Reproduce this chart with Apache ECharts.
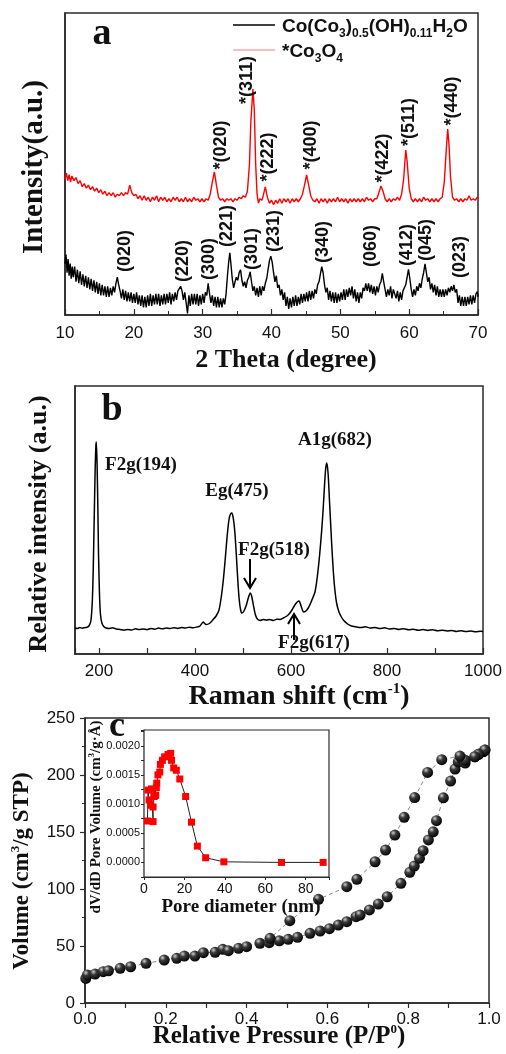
<!DOCTYPE html>
<html>
<head>
<meta charset="utf-8">
<script src="https://cdn.jsdelivr.net/npm/echarts@6/dist/echarts.min.js"></script>
<style>
html,body{margin:0;padding:0;background:#fff;}
#c{width:506px;height:1054px;}
</style>
</head>
<body>
<div id="c"></div>
<script>
// ---------------- DATA ----------------
// Panel a: XRD (2theta, arbitrary intensity)
const xrdCarbonate = [[10.0,17],[10.15,20],[10.3,14],[10.45,18.5],[10.6,13],[10.75,17],[10.9,12],[11.05,16],[11.2,12.5],[11.4,16],[11.6,11],[11.8,15],[12.0,10.5],[12.2,14.5],[12.4,10],[12.6,13.5],[12.8,9.5],[13.0,13],[13.2,9],[13.4,12.5],[13.6,8.5],[13.8,12],[14.0,8],[14.2,11.5],[14.4,7.5],[14.6,11],[14.8,7],[15.0,10.5],[15.2,6.5],[15.4,10],[15.6,6.5],[15.8,9.5],[16.0,6],[16.2,9.5],[16.4,6],[16.6,9],[16.8,6.5],[17.0,9.5],[17.2,7.5],[17.4,10.5],[17.6,12.5],[17.8,10],[18.0,8],[18.2,5.5],[18.4,8.5],[18.6,5],[18.8,8],[19.0,4.5],[19.2,7.5],[19.4,4.5],[19.6,7.5],[19.8,4],[20.0,7],[20.2,4],[20.4,7.5],[20.6,3.5],[20.8,6.5],[21.0,3],[21.2,6.5],[21.4,2.5],[21.6,6],[21.8,2.5],[22.0,6.5],[22.2,3],[22.4,7],[22.6,3],[22.8,6.5],[23.0,3.5],[23.2,7],[23.4,3.5],[23.6,7],[23.8,3],[24.0,6.5],[24.2,3.5],[24.4,7],[24.6,3.5],[24.8,7],[25.0,4],[25.2,7.5],[25.4,3.5],[25.6,7],[25.8,4.5],[26.0,7.5],[26.2,5],[26.4,8],[26.6,7.5],[26.8,9.5],[27.0,8],[27.2,5],[27.4,7.5],[27.6,4],[27.8,0.5],[28.0,6.5],[28.2,3],[28.4,7],[28.6,3.5],[28.8,7],[29.0,3.5],[29.2,7],[29.4,3],[29.6,6.5],[29.8,3.5],[30.0,7],[30.2,4],[30.4,7.5],[30.6,6.5],[30.8,10.5],[31.0,7],[31.2,4],[31.4,6.5],[31.6,3],[31.8,6],[32.0,2.5],[32.2,6],[32.4,2.5],[32.6,5.5],[32.8,2.5],[33.0,5.5],[33.2,3.5],[33.4,7],[33.6,13],[33.8,18],[33.95,20.6],[34.1,17],[34.3,12],[34.5,9],[34.7,11],[34.9,12.5],[35.1,11.5],[35.3,14],[35.5,15],[35.7,11.5],[35.9,9.5],[36.1,11],[36.3,9],[36.5,11.5],[36.7,12.5],[36.9,14.3],[37.1,11],[37.3,8],[37.5,9.5],[37.7,6.5],[37.9,9],[38.1,6],[38.3,9.5],[38.5,6.5],[38.7,9.5],[38.9,8],[39.1,10.5],[39.3,12],[39.5,15],[39.7,18],[39.9,19.5],[40.1,17.5],[40.3,14],[40.5,11],[40.7,13],[40.9,9],[41.1,10],[41.3,6.5],[41.5,8.5],[41.7,5],[41.9,7.5],[42.1,3],[42.3,6],[42.5,2],[42.7,5.5],[42.9,2.5],[43.1,6],[43.3,3],[43.5,6.5],[43.7,3],[43.9,6],[44.1,3.5],[44.3,7],[44.5,4],[44.7,7],[44.9,4.5],[45.1,7.5],[45.3,4.5],[45.5,8],[45.7,5],[45.9,8],[46.1,5.5],[46.3,8.5],[46.5,7],[46.7,10],[46.9,11],[47.1,13.5],[47.3,16],[47.5,14],[47.7,10],[47.9,7.5],[48.1,9],[48.3,5],[48.5,8],[48.7,4.5],[48.9,7.5],[49.1,4],[49.3,7.5],[49.5,4],[49.7,7],[49.9,4.5],[50.1,7.5],[50.3,5],[50.5,8.5],[50.7,5],[50.9,8.5],[51.1,6],[51.3,9],[51.5,6.5],[51.7,9.5],[51.9,5.5],[52.1,8.5],[52.3,4.5],[52.5,7.5],[52.7,4],[52.9,7.5],[53.1,5.5],[53.3,9],[53.5,8],[53.7,10.5],[53.9,8],[54.1,10.5],[54.3,7.5],[54.5,10],[54.7,7],[54.9,9.5],[55.1,6.5],[55.3,9.5],[55.5,7.5],[55.7,10],[55.9,11],[56.1,13.8],[56.3,11],[56.5,8.5],[56.7,6],[56.9,8.5],[57.1,6.5],[57.3,9.5],[57.5,5.5],[57.7,8.5],[57.9,8.8],[58.1,5.5],[58.3,8],[58.5,4.5],[58.7,7.5],[58.9,5],[59.1,8],[59.3,7.5],[59.5,10],[59.7,12.5],[59.9,15.1],[60.1,12],[60.3,8.5],[60.5,6],[60.7,8.5],[60.9,6.5],[61.1,9.5],[61.3,8],[61.5,10.5],[61.7,9],[61.9,12],[62.1,14],[62.3,16.9],[62.5,14],[62.7,11],[62.9,12.5],[63.1,8.5],[63.3,10.5],[63.5,7.5],[63.7,10],[63.9,6.5],[64.1,9.5],[64.3,6],[64.5,8.5],[64.7,6],[64.9,8.5],[65.1,6],[65.3,8.5],[65.5,6.5],[65.7,9],[65.9,7.5],[66.1,9.5],[66.3,8],[66.5,10],[66.7,7.5],[66.9,8.5],[67.1,4],[67.3,6.5],[67.5,3],[67.7,6],[67.9,3],[68.1,6],[68.3,3],[68.5,6],[68.7,3.5],[68.9,6.5],[69.1,3.5],[69.3,6.5],[69.5,4],[69.7,7],[69.9,7.7],[70.0,6]];
const xrdCo3O4 = [[10.0,45],[10.2,47],[10.4,44.5],[10.6,46.5],[10.8,44],[11.0,46],[11.3,44.5],[11.6,45.5],[11.9,43.5],[12.2,44.5],[12.5,42.5],[12.8,43.5],[13.1,42],[13.4,43],[13.7,41.5],[14.0,42.5],[14.3,41],[14.6,42],[14.9,40.5],[15.2,41.5],[15.5,40],[15.8,41],[16.1,39.5],[16.4,40.5],[16.7,39.5],[17.0,40.5],[17.3,39],[17.6,40],[17.9,39.5],[18.2,40.5],[18.5,39.5],[18.8,40.5],[19.1,40],[19.4,43],[19.7,40.5],[20.0,39.5],[20.3,40],[20.6,38.5],[20.9,39.5],[21.2,38],[21.5,39.5],[21.8,38],[22.1,39],[22.4,37.5],[22.7,39],[23.0,38],[23.3,39.5],[23.6,37.5],[23.9,39],[24.2,38],[24.5,39],[24.8,37.5],[25.1,38.5],[25.4,37.5],[25.7,39],[26.0,38],[26.3,39],[26.6,37.5],[26.9,38.5],[27.2,37.5],[27.5,39],[27.8,37.5],[28.1,38.5],[28.4,37.5],[28.7,39],[29.0,38],[29.3,38.5],[29.6,37.5],[29.9,38.5],[30.2,37.5],[30.5,38.5],[30.8,38],[31.1,40],[31.4,44],[31.7,47.4],[32.0,43],[32.3,39],[32.6,38],[32.9,38.5],[33.2,37.5],[33.5,38.5],[33.8,38],[34.1,38.5],[34.4,37.5],[34.7,38.5],[35.0,38],[35.3,39],[35.6,38.5],[35.9,39.5],[36.2,39],[36.5,41],[36.8,50],[37.0,64],[37.3,74.8],[37.5,68],[37.7,50],[37.9,40],[38.1,37],[38.3,38.5],[38.6,38],[38.8,39.5],[39.1,42.4],[39.4,39],[39.7,37],[40.0,38],[40.3,36.5],[40.6,38],[40.9,37],[41.2,38.5],[41.5,37],[41.8,38.5],[42.1,37.5],[42.4,38.5],[42.7,37],[43.0,38.5],[43.3,37.5],[43.6,38.5],[43.9,37.5],[44.2,38.5],[44.5,40],[44.8,43],[45.1,46.4],[45.4,43],[45.7,39.5],[46.0,38],[46.3,37.5],[46.6,38.5],[46.9,37],[47.2,38.5],[47.5,37.5],[47.8,38.5],[48.1,37],[48.4,38.5],[48.7,37.5],[49.0,38.5],[49.3,37.5],[49.6,39],[49.9,37.5],[50.2,38.5],[50.5,37.5],[50.8,38.5],[51.1,37],[51.4,38.5],[51.7,37.5],[52.0,38.5],[52.3,37.5],[52.6,38.5],[52.9,37.5],[53.2,38.5],[53.5,37.5],[53.8,39],[54.1,38],[54.4,38.5],[54.7,37.5],[55.0,38.5],[55.3,38.5],[55.6,40.5],[55.9,42.7],[56.2,41],[56.5,38.5],[56.8,37.5],[57.1,38.5],[57.4,37.5],[57.7,38.5],[58.0,38],[58.3,39],[58.6,38],[58.9,40],[59.2,45],[59.5,54.6],[59.7,51],[60.0,42],[60.3,38.5],[60.6,37.5],[60.9,38.5],[61.2,37.5],[61.5,38.5],[61.8,37.5],[62.1,39],[62.4,38],[62.7,38.5],[63.0,37.5],[63.3,38.5],[63.6,37.5],[63.9,38.5],[64.2,37.5],[64.5,38.5],[64.8,39],[65.1,44],[65.4,55],[65.6,61.6],[65.8,56],[66.0,46],[66.3,39],[66.6,38],[66.9,38.5],[67.2,37.5],[67.5,38.5],[67.8,37.5],[68.1,38.5],[68.4,38],[68.7,39.5],[69.0,38],[69.3,38.5],[69.6,38],[69.9,39],[70.0,38.5]];
const xrdXTicks = [10,20,30,40,50,60,70];
const carbonatePeakLabels = ['(020)','(220)','(300)','(221)','(301)','(231)','(340)','(060)','(412)','(045)','(023)'];
const co3o4PeakLabels = ['*(020)','*(311)','*(222)','*(400)','*(422)','*(511)','*(440)'];

// Panel b: Raman (shift cm-1, relative intensity)
const raman = [[150,26],[155,25.5],[160,26.5],[165,25.8],[170,26.3],[175,26.8],[179,28],[183,33],[186,52],[188,85],[190,135],[192,185],[193.5,208],[194.5,212],[196,190],[197.5,150],[199,100],[201,60],[203,40],[206,31],[210,27.5],[215,26],[220,25.5],[228,26.2],[236,25],[244,24.5],[252,23.8],[260,24.6],[268,24],[276,25.2],[284,24.4],[292,25],[300,24.3],[308,25.6],[316,24.8],[324,25.9],[332,25.2],[340,26],[348,25.4],[356,26.3],[364,25.6],[372,26.5],[380,25.9],[388,26.8],[396,26.2],[404,27],[410,27.8],[417,32],[423,29.5],[430,30.5],[437,34],[444,38],[450,44],[455,58],[459,74],[463,95],[467,118],[471,135],[474,140],[477,141],[480,135],[483,122],[486,100],[489,75],[492,55],[495,44],[498,41],[502,43],[507,49],[511,56],[515,61],[518,58],[522,48],[526,39],[530,35],[536,33.5],[542,34.5],[549,33.8],[556,34.6],[563,33.5],[570,34.8],[577,34.5],[584,36],[590,37.5],[596,40],[602,44],[608,49],[613,52],[617,53],[621,48],[626,42],[631,43],[636,46],[641,51],[646,57],[650,62],[655,78],[660,101],[664,124],[667,145],[670,170],[672,184],[674,191],[676,187],[678,175],[680,155],[682,136],[685,108],[688,84],[691,66],[695,51],[700,42],[705,37],[710,33.5],[718,30],[726,28],[735,27.2],[745,26.5],[755,27.2],[765,26],[775,26.6],[785,25.5],[795,26.2],[805,25],[815,25.6],[825,24.6],[835,25.2],[845,24.2],[855,24.8],[865,23.8],[875,24.4],[885,23.6],[895,24.2],[905,23.2],[915,23.8],[925,23],[935,23.6],[945,22.6],[955,23.2],[965,22.4],[975,23],[985,22.2],[995,22.8],[1000,22.4]];
const ramanBands = ['F2g(194)','Eg(475)','F2g(518)','F2g(617)','A1g(682)'];

// Panel c: N2 isotherm (P/P0, cm3/g STP)
const adsorption = [[0.002,21.6],[0.006,24.6],[0.025,25.4],[0.045,27.5],[0.058,28.3],[0.087,30.4],[0.113,31.8],[0.151,34.8],[0.196,37.7],[0.227,39.2],[0.246,41.2],[0.272,41.2],[0.293,44.1],[0.322,44.5],[0.341,47.1],[0.355,45.9],[0.380,48.0],[0.400,49.4],[0.433,52.4],[0.456,52.9],[0.481,54.6],[0.503,55.9],[0.526,57.6],[0.557,61.1],[0.582,63.1],[0.605,65.2],[0.627,68.4],[0.648,71.3],[0.671,75.7],[0.681,77.2],[0.704,81.6],[0.726,86.8],[0.748,93.2],[0.782,105],[0.804,114.6],[0.815,120.1],[0.828,126.9],[0.837,133.6],[0.850,143],[0.862,150.2],[0.870,159.9],[0.887,180],[0.905,194.7],[0.916,205.2],[0.924,211.6],[0.932,214.6],[0.941,210.5],[0.965,216],[0.974,218.1],[0.986,220.4],[0.990,221.9]];
const desorption = [[0.990,221.9],[0.974,218.1],[0.965,216],[0.941,213],[0.928,216.6],[0.883,213.4],[0.848,202.3],[0.816,180.2],[0.790,162.9],[0.767,147.3],[0.744,134.2],[0.718,123.9],[0.673,108.5],[0.648,102],[0.578,90.9],[0.507,72.2],[0.458,56.7]];
// Inset: pore size distribution (nm, cm3/g/A)
const poreDist = [[1.7,0.00071],[2.0,0.00124],[2.5,0.00107],[3.3,0.00098],[3.7,0.00126],[4.5,0.00070],[4.5,0.00095],[5.0,0.00113],[5.8,0.00115],[6.1,0.00128],[6.3,0.00136],[6.9,0.00150],[7.8,0.00155],[8.1,0.00168],[9.1,0.00175],[10.2,0.00181],[11.9,0.00185],[13.2,0.00187],[13.6,0.00175],[14.7,0.00162],[16.0,0.00158],[17.7,0.00143],[20.6,0.00113],[23.5,0.00069],[26.4,0.00028],[30.5,0.00008],[39.5,0.00001],[68.0,0.0],[88.6,0.0]];

// ---------------- STYLE / LAYOUT ----------------
const SANS = '"Liberation Sans", Arial, sans-serif';
const SERIF = '"Liberation Serif", "Times New Roman", serif';
const INK = '#111';
const FRAME = '#2a2a2a';

function axisCommon(extra){
  return Object.assign({
    type:'value',
    axisLine:{show:true, onZero:false, lineStyle:{color:FRAME, width:1.5}},
    splitLine:{show:false},
    minorSplitLine:{show:false}
  }, extra);
}

const chart = echarts.init(document.getElementById('c'), null, {renderer:'canvas'});

function T(x, y, text, size, opts){
  opts = opts || {};
  return {
    type:'text', x:x, y:y, rotation: opts.rot || 0, z:100,
    style:{
      text:text, fill: opts.fill || INK,
      fontSize:size, fontFamily: opts.family || SERIF, fontWeight: opts.weight || 'bold',
      align: opts.align || 'center', verticalAlign:'middle',
      textAlign: opts.align || 'center', textVerticalAlign:'middle',
      rich: opts.rich
    }
  };
}
function richSub(size, subSize, family, lh){
  return {
    m:{fontSize:size, fontFamily:family, fontWeight:'bold', lineHeight:lh, verticalAlign:'middle', fill:INK},
    s:{fontSize:subSize, fontFamily:family, fontWeight:'bold', lineHeight:lh, verticalAlign:'bottom', fill:INK},
    u:{fontSize:subSize, fontFamily:family, fontWeight:'bold', lineHeight:lh, verticalAlign:'top', fill:INK}
  };
}

const graphics = [];
// panel letters
graphics.push(T(102, 34, 'a', 38));
graphics.push(T(112, 410, 'b', 38));
graphics.push(T(117, 727, 'c', 36));

// panel a legend
graphics.push({type:'line', z:100, shape:{x1:233,y1:25,x2:275,y2:25}, style:{stroke:'#000', lineWidth:1.3}});
graphics.push({type:'line', z:100, shape:{x1:233,y1:50,x2:275,y2:50}, style:{stroke:'#f08080', lineWidth:1.2}});
graphics.push(T(282, 27, '{m|Co(Co}{s|3}{m|)}{s|0.5}{m|(OH)}{s|0.11}{m|H}{s|2}{m|O}', 19, {align:'left', rich:richSub(19,12,SANS,26)}));
graphics.push(T(282, 52, '{m|*Co}{s|3}{m|O}{s|4}', 19, {align:'left', rich:richSub(19,12,SANS,26)}));

// panel a peak labels (rotated)
const redPos = [[221,145],[247,80],[268,157],[311,145],[383,158],[409,122],[452,101]];
co3o4PeakLabels.forEach((t,i)=>graphics.push(T(redPos[i][0], redPos[i][1], t, 18, {rot:Math.PI/2, family:SANS})));
const blackPos = [[125,251],[183,261],[209,259],[227,226],[252,249],[274,231],[323,242],[371,246],[407,245],[426,240],[460,257]];
carbonatePeakLabels.forEach((t,i)=>graphics.push(T(blackPos[i][0], blackPos[i][1], t, 18, {rot:Math.PI/2, family:SANS})));

// panel a axis titles
graphics.push(T(286, 360, '2 Theta (degree)', 26));
graphics.push(T(35, 167, 'Intensity(a.u.)', 29, {rot:Math.PI/2}));

// panel b band labels and arrows
const bandPos = [[141,465],[237,491],[274,550],[314,643],[335,440]];
ramanBands.forEach((t,i)=>graphics.push(T(bandPos[i][0], bandPos[i][1], t, 19)));
graphics.push({type:'line', z:100, shape:{x1:250,y1:559,x2:250,y2:587}, style:{stroke:'#000', lineWidth:2}});
graphics.push({type:'polyline', z:100, shape:{points:[[244,578],[250,588],[256,578]]}, style:{stroke:'#000', lineWidth:2, fill:null}});
graphics.push({type:'line', z:100, shape:{x1:294,y1:640,x2:294,y2:615}, style:{stroke:'#000', lineWidth:2}});
graphics.push({type:'polyline', z:100, shape:{points:[[288,624],[294,614],[300,624]]}, style:{stroke:'#000', lineWidth:2, fill:null}});

// panel b axis titles
graphics.push(T(299, 697, '{m|Raman shift (cm}{u|-1}{m|)}', 28, {rich:richSub(28,15,SERIF,30)}));
graphics.push(T(39, 524, 'Relative intensity (a.u.)', 26, {rot:Math.PI/2}));

// panel c axis titles
graphics.push(T(279, 1037, '{m|Relative Pressure (P/P}{u|0}{m|)}', 25, {rich:richSub(25,13,SERIF,28)}));
graphics.push(T(22, 871, '{m|Volume (cm}{u|3}{m|/g STP)}', 23, {rot:Math.PI/2, rich:richSub(23,13,SERIF,26)}));
graphics.push(T(241, 907, 'Pore diameter (nm)', 19));
graphics.push(T(96, 817, '{m|dV/dD Pore Volume (cm}{u|3}{m|/g·Å)}', 15, {rot:Math.PI/2, rich:richSub(15,9,SERIF,17)}));

const ball = new echarts.graphic.RadialGradient(0.35, 0.3, 0.75, [
  {offset:0, color:'#d0d0d0'}, {offset:0.35, color:'#3a3a3a'}, {offset:1, color:'#000'}
]);

const option = {
  animation:false,
  backgroundColor:'#fff',
  grid:[
    {left:65, top:13, width:413, height:302, show:true, borderColor:FRAME, borderWidth:1.5, backgroundColor:'transparent'},
    {left:75, top:386, width:408, height:268, show:true, borderColor:FRAME, borderWidth:1.5, backgroundColor:'transparent'},
    {left:85, top:718, width:404, height:285, show:true, borderColor:FRAME, borderWidth:1.5, backgroundColor:'transparent'},
    {left:144, top:730, width:185, height:147, show:true, borderColor:FRAME, borderWidth:1.2, backgroundColor:'#fff', z:3}
  ],
  xAxis:[
    axisCommon({gridIndex:0, min:10, max:70, interval:10,
      axisTick:{inside:true, length:6, lineStyle:{color:FRAME, width:1.2}},
      minorTick:{show:true, splitNumber:2, length:4, lineStyle:{color:FRAME, width:1}},
      axisLabel:{fontSize:17, fontFamily:SANS, color:INK, margin:10,
        formatter:v=>xrdXTicks.indexOf(v)>=0 ? String(v) : ''}}),
    axisCommon({gridIndex:1, min:150, max:1000, splitNumber:4,
      axisTick:{inside:true, length:6, lineStyle:{color:FRAME, width:1.2}},
      minorTick:{show:true, splitNumber:2, length:6, lineStyle:{color:FRAME, width:1.2}},
      axisLabel:{fontSize:17, fontFamily:SANS, color:INK, margin:9,
        formatter:v=> (v%200===0) ? String(v) : ''}}),
    axisCommon({gridIndex:2, min:0, max:1, interval:0.2,
      axisTick:{inside:false, length:5, lineStyle:{color:FRAME, width:1.2}},
      minorTick:{show:true, splitNumber:2, length:5, lineStyle:{color:FRAME, width:1.2}},
      axisLabel:{fontSize:17, fontFamily:SANS, color:INK, margin:8, formatter:v=>v.toFixed(1)}}),
    axisCommon({gridIndex:3, min:0, max:91.5, interval:20,
      axisLine:{show:true, onZero:false, lineStyle:{color:FRAME, width:1.2}},
      axisTick:{inside:false, length:3, lineStyle:{color:FRAME, width:1}},
      axisLabel:{fontSize:14, fontFamily:SANS, color:INK, margin:5,
        formatter:v=> (Math.abs(v%20)<1e-6) ? String(v) : ''}})
  ],
  yAxis:[
    axisCommon({gridIndex:0, min:0, max:100, axisTick:{show:false}, axisLabel:{show:false}}),
    axisCommon({gridIndex:1, min:0, max:268, axisTick:{show:false}, axisLabel:{show:false}}),
    axisCommon({gridIndex:2, min:0, max:250, interval:50,
      axisTick:{inside:false, length:5, lineStyle:{color:FRAME, width:1.2}},
      minorTick:{show:true, splitNumber:2, length:3, lineStyle:{color:FRAME, width:1}},
      axisLabel:{fontSize:17, fontFamily:SANS, color:INK, margin:10}}),
    axisCommon({gridIndex:3, min:-0.00025, max:0.00227, interval:0.00025,
      axisLine:{show:true, onZero:false, lineStyle:{color:FRAME, width:1.2}},
      axisTick:{inside:false, length:3, lineStyle:{color:FRAME, width:1}},
      axisLabel:{fontSize:11, fontFamily:SANS, color:INK, margin:4,
        formatter:v=>{const k=Math.round(v/0.0005); return (k>=0 && Math.abs(v-k*0.0005)<1e-8) ? (k*0.0005).toFixed(4) : '';}}})
  ],
  series:[
    {type:'line', xAxisIndex:0, yAxisIndex:0, data:xrdCarbonate, showSymbol:false, lineStyle:{color:'#000', width:1.4}, z:3},
    {type:'line', xAxisIndex:0, yAxisIndex:0, data:xrdCo3O4, showSymbol:false, lineStyle:{color:'#ff0000', width:1.4}, z:3},
    {type:'line', xAxisIndex:1, yAxisIndex:1, data:raman, showSymbol:false, smooth:0.2, lineStyle:{color:'#000', width:1.5}, z:3},
    {type:'line', xAxisIndex:2, yAxisIndex:2, data:adsorption, symbol:'circle', symbolSize:11,
      itemStyle:{color:ball}, lineStyle:{color:'#888', width:1, type:[4,3]}, z:3},
    {type:'line', xAxisIndex:2, yAxisIndex:2, data:desorption, symbol:'circle', symbolSize:11,
      itemStyle:{color:ball}, lineStyle:{color:'#888', width:1, type:[4,3]}, z:3},
    {type:'line', xAxisIndex:3, yAxisIndex:3, data:poreDist, symbol:'rect', symbolSize:7,
      itemStyle:{color:'#ff0000'}, lineStyle:{color:'#222', width:1}, z:10}
  ],
  graphic:graphics
};
chart.setOption(option);
</script>
</body>
</html>
